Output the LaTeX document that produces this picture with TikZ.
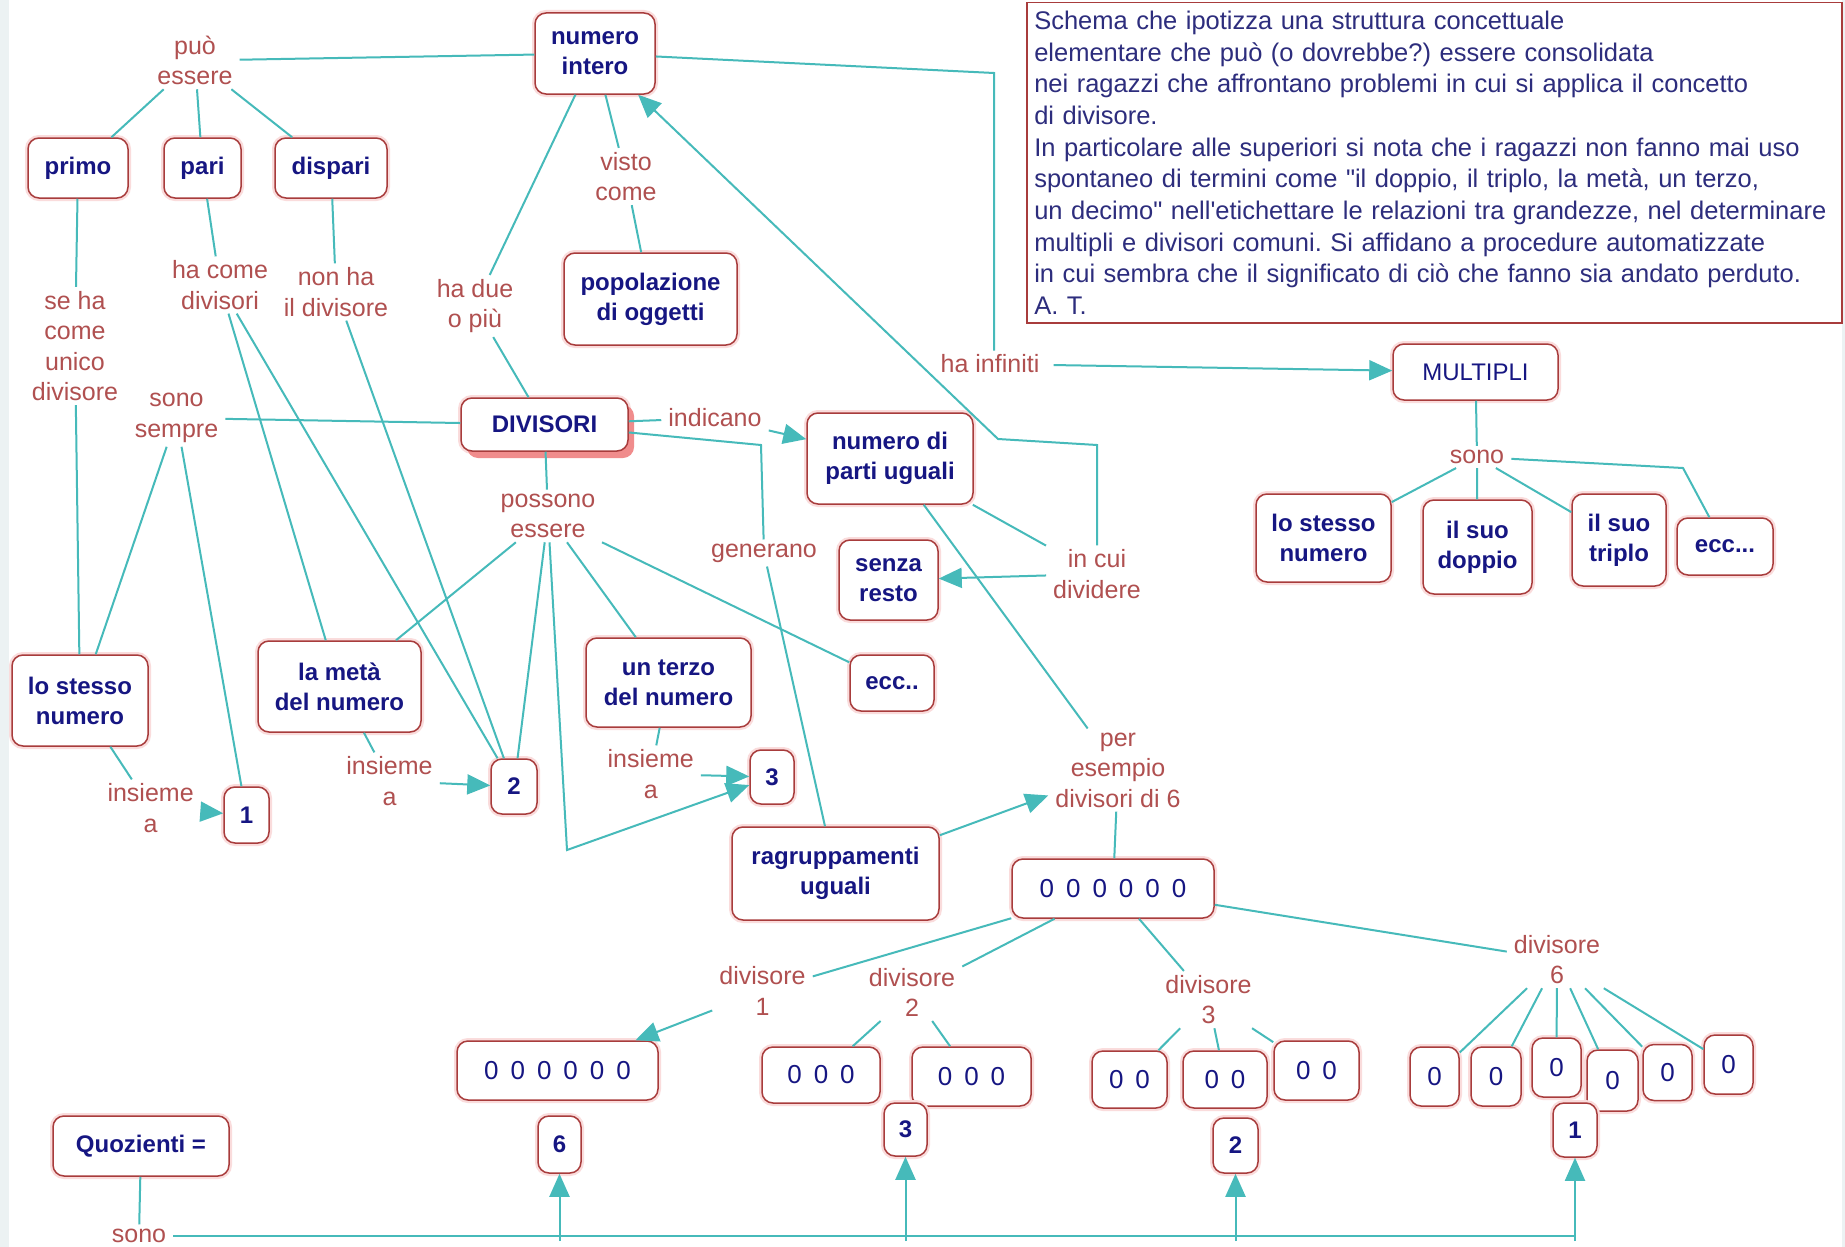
\documentclass[tikz,border=0pt]{standalone}
\usepackage{fontspec}
\setmainfont{Liberation Sans}
\newfontfamily\descfamily{Liberation Sans}
\usetikzlibrary{arrows.meta,shadows}
\definecolor{nodered}{RGB}{168,60,60}
\definecolor{glow}{RGB}{250,220,220}
\definecolor{navy}{RGB}{22,22,130}
\definecolor{linkred}{RGB}{176,80,80}
\definecolor{lineteal}{RGB}{70,186,186}
\definecolor{descblue}{RGB}{45,45,125}
\definecolor{bgstrip}{RGB}{236,242,243}
\definecolor{shadowred}{RGB}{240,140,140}
\newcommand{\myconceptfont}{\fontsize{24}{30}\selectfont\bfseries}
\newcommand{\myplainfont}{\fontsize{24}{30}\selectfont\mdseries}
\newcommand{\myzerofont}{\fontsize{26}{30}\selectfont\mdseries}
\newcommand{\mylinkfont}{\fontsize{25}{30.5}\selectfont}
\newcommand{\mydescfont}{\descfamily\fontsize{25.5}{31.7}\selectfont}
\newcommand{\zs}{\hspace{12pt}}
\tikzset{
  concept/.style={draw=nodered, line width=1.5pt, rounded corners=11pt, fill=white, text=navy,
    font=\myconceptfont, align=center, inner sep=3pt, preaction={draw=glow, line width=6pt}},
  zero/.style={concept, font=\myzerofont},
  link/.style={text=linkred, font=\mylinkfont, align=center, inner xsep=7pt, inner ysep=4pt},
  conn/.style={draw=lineteal, line width=2pt},
  arr/.style={conn, -{Triangle[length=23pt,width=20pt]}},
}
\begin{document}
\frenchspacing
\begin{tikzpicture}[x=1pt,y=-1pt]
\useasboundingbox (0,0) rectangle (1845,1247);
\fill[white] (0,0) rectangle (1845,1247);
\fill[bgstrip] (0,0) rectangle (9,1247);
\fill[bgstrip] (1842,0) rectangle (1845,1247);

% description box
\node[draw=nodered, line width=1.5pt, fill=white, anchor=north west, minimum width=815pt, minimum height=320pt,
  text width=800pt, align=left, inner xsep=7pt, inner ysep=0pt, text=descblue, font=\mydescfont] (descr) at (1026,2)
{Schema che ipotizza una struttura concettuale\\
elementare che può (o dovrebbe?) essere consolidata\\
nei ragazzi che affrontano problemi in cui si applica il concetto\\
di divisore.\\
In particolare alle superiori si nota che i ragazzi non fanno mai uso\\
spontaneo di termini come "il doppio, il triplo, la metà, un terzo,\\
un decimo" nell'etichettare le relazioni tra grandezze, nel determinare\\
multipli e divisori comuni. Si affidano a procedure automatizzate\\
in cui sembra che il significato di ciò che fanno sia andato perduto.\\
A. T.};

% concepts
\node[concept, minimum width=120pt, minimum height=81pt] (numint) at (595,53.5) {numero\\intero};
\node[concept, minimum width=100pt, minimum height=60pt] (primo) at (78,168) {primo};
\node[concept, minimum width=77pt, minimum height=60pt] (pari) at (202.5,168) {pari};
\node[concept, minimum width=112pt, minimum height=60pt] (dispari) at (331,168) {dispari};
\node[concept, minimum width=173pt, minimum height=92pt] (popol) at (650.5,299) {popolazione\\di oggetti};
\node[concept, minimum width=167pt, minimum height=53pt,
  drop shadow={shadow xshift=6pt, shadow yshift=-7pt, fill=shadowred, opacity=1}] (divisori) at (544.5,424.5) {DIVISORI};
\node[concept, minimum width=166pt, minimum height=91pt] (parti) at (890,458.5) {numero di\\parti uguali};
\node[concept, minimum width=99pt, minimum height=80pt] (senza) at (888.5,580) {senza\\resto};
\node[concept, minimum width=84pt, minimum height=56pt] (eccm) at (892,683) {ecc..};
\node[concept, minimum width=165pt, minimum height=56pt, font=\myplainfont] (multipli) at (1475.5,372) {MULTIPLI};
\node[concept, minimum width=135pt, minimum height=88pt] (stessoR) at (1323.5,538) {lo stesso\\numero};
\node[concept, minimum width=109pt, minimum height=94pt] (doppio) at (1477.5,547) {il suo\\doppio};
\node[concept, minimum width=94pt, minimum height=92pt] (triplo) at (1619,540) {il suo\\triplo};
\node[concept, minimum width=96pt, minimum height=57pt] (eccR) at (1725,546.5) {ecc...};
\node[concept, minimum width=136pt, minimum height=91pt] (stessoL) at (80,700.5) {lo stesso\\numero};
\node[concept, minimum width=163pt, minimum height=91pt] (meta) at (339.5,686.5) {la metà\\del numero};
\node[concept, minimum width=165pt, minimum height=89pt] (terzo) at (668.5,682.5) {un terzo\\del numero};
\node[concept, minimum width=45pt, minimum height=56pt] (one) at (246.5,815) {1};
\node[concept, minimum width=46pt, minimum height=55pt] (two) at (514,786.5) {2};
\node[concept, minimum width=44pt, minimum height=54pt] (three) at (772,777) {3};
\node[concept, minimum width=207pt, minimum height=93pt] (ragr) at (835.5,873.5) {ragruppamenti\\uguali};
\node[zero, minimum width=202pt, minimum height=59pt] (six) at (1113,888.5) {0\zs0\zs0\zs0\zs0\zs0};
\node[zero, minimum width=201pt, minimum height=59pt] (sixA) at (557.5,1070.5) {0\zs0\zs0\zs0\zs0\zs0};
\node[zero, minimum width=118pt, minimum height=56pt] (threeA) at (821,1075) {0\zs0\zs0};
\node[zero, minimum width=119pt, minimum height=59pt] (threeB) at (971.5,1076.5) {0\zs0\zs0};
\node[zero, minimum width=75pt, minimum height=57pt] (twoA) at (1129.5,1079.5) {0\zs0};
\node[zero, minimum width=84pt, minimum height=57pt] (twoB) at (1225,1079.5) {0\zs0};
\node[zero, minimum width=85pt, minimum height=59pt] (twoC) at (1316.5,1070.5) {0\zs0};
\node[zero, minimum width=49pt, minimum height=59pt] (oneA) at (1434.5,1076.5) {0};
\node[zero, minimum width=50pt, minimum height=59pt] (oneB) at (1496,1076.5) {0};
\node[zero, minimum width=49pt, minimum height=59pt] (oneC) at (1556.5,1067.5) {0};
\node[zero, minimum width=51pt, minimum height=61pt] (oneD) at (1612.5,1080.5) {0};
\node[zero, minimum width=49pt, minimum height=56pt] (oneE) at (1667.5,1072.5) {0};
\node[zero, minimum width=49pt, minimum height=59pt] (oneF) at (1728.5,1064.5) {0};
\node[concept, minimum width=43pt, minimum height=57pt] (q6) at (559.5,1144.5) {6};
\node[concept, minimum width=43pt, minimum height=53pt] (q3) at (905.5,1129.5) {3};
\node[concept, minimum width=45pt, minimum height=55pt] (q2) at (1235.5,1145.5) {2};
\node[concept, minimum width=44pt, minimum height=54pt] (q1) at (1575,1130) {1};
\node[concept, minimum width=176pt, minimum height=60pt] (quoz) at (141,1146) {Quozienti =};

% linking phrases
\node[link] (puo) at (195,60.5) {può\\essere};
\node[link] (visto) at (626,176.5) {visto\\come};
\node[link] (seha) at (75,346) {se ha\\come\\unico\\divisore};
\node[link] (hacome) at (220,285) {ha come\\divisori};
\node[link] (nonha) at (336,292) {non ha\\il divisore};
\node[link] (hadue) at (475,306) {ha due\\o più};
\node[link] (sempre) at (176.5,418) {sono\\sempre};
\node[link] (indicano) at (715,418) {indicano};
\node[link] (possono) at (548,516) {possono\\essere};
\node[link] (generano) at (764,553) {generano};
\node[link, inner xsep=14pt] (hainf) at (990,364) {ha infiniti};
\node[link] (incui) at (1097,574) {in cui\\dividere};
\node[link] (sonoM) at (1477,457) {sono};
\node[link] (insL) at (150.6,808) {insieme\\a};
\node[link] (insM) at (389.5,781) {insieme\\a};
\node[link] (insT) at (650.7,774) {insieme\\a};
\node[link] (peres) at (1118,770) {per\\esempio\\divisori di 6};
\node[link] (div1) at (762.5,991) {divisore\\1};
\node[link] (div2) at (912,992.5) {divisore\\2};
\node[link] (div3) at (1208.5,999.6) {divisore\\3};
\node[link] (div6) at (1557,959.6) {divisore\\6};
\node[link] (sonoQ) at (139,1235.5) {sono};

% bend points
\coordinate (k1) at (994,73);
\coordinate (k2) at (1097,445);
\coordinate (k3) at (998,439);
\coordinate (k4) at (761,445);
\coordinate (k6) at (567,850);
\coordinate (k7) at (1683,468);
\coordinate (k5) at (1575,1241);

% connectors
\draw[conn] (numint) -- (puo);
\draw[conn] (puo) -- (primo);
\draw[conn] (puo) -- (pari);
\draw[conn] (puo) -- (dispari);
\draw[conn] (numint) -- (visto);
\draw[conn] (visto) -- (popol);
\draw[conn] (numint) -- (hadue);
\draw[conn] (hadue) -- (divisori);
\draw[conn] (numint) -- (k1) -- (k1 |- hainf.north);
\draw[arr] (hainf) -- (multipli);
\draw[arr] (incui) -- (k2) -- (k3) -- (numint);
\draw[conn] (parti) -- (incui);
\draw[arr] (incui) -- (senza);
\draw[conn] (divisori) -- (indicano);
\draw[arr] (indicano) -- (parti);
\draw[conn] (divisori) -- (k4) -- (generano);
\draw[conn] (generano) -- (ragr);
\draw[arr] (ragr) -- (peres);
\draw[conn] (parti) -- (peres);
\draw[conn] (peres) -- (six);
\draw[conn] (divisori) -- (possono);
\draw[conn] (possono) -- (meta);
\draw[conn] (possono) -- (two);
\draw[conn] (possono) -- (terzo);
\draw[conn] (possono) -- (eccm);
\draw[arr] (possono) -- (k6) -- (three);
\draw[conn] (divisori) -- (sempre);
\draw[conn] (sempre) -- (stessoL);
\draw[conn] (sempre) -- (one);
\draw[conn] (primo) -- (seha);
\draw[conn] (seha) -- (stessoL);
\draw[conn] (pari) -- (hacome);
\draw[conn] (hacome) -- (meta);
\draw[conn] (hacome) -- (two);
\draw[conn] (dispari) -- (nonha);
\draw[conn] (nonha) -- (two);
\draw[conn] (stessoL) -- (insL);
\draw[arr] (insL) -- (one);
\draw[conn] (meta) -- (insM);
\draw[arr] (insM) -- (two);
\draw[conn] (terzo) -- (insT);
\draw[arr] (insT) -- (three);
\draw[conn] (multipli) -- (sonoM);
\draw[conn] (sonoM) -- (stessoR);
\draw[conn] (sonoM) -- (doppio);
\draw[conn] (sonoM) -- (triplo);
\draw[conn] (sonoM) -- (k7) -- (eccR);
\draw[conn] (six) -- (div1);
\draw[conn] (six) -- (div2);
\draw[conn] (six) -- (div3);
\draw[conn] (six) -- (div6);
\draw[arr] (div1) -- (sixA);
\draw[conn] (div2) -- (threeA);
\draw[conn] (div2) -- (threeB);
\draw[conn] (div3) -- (twoA);
\draw[conn] (div3) -- (twoB);
\draw[conn] (div3) -- (twoC);
\draw[conn] (div6) -- (oneA);
\draw[conn] (div6) -- (oneB);
\draw[conn] (div6) -- (oneC);
\draw[conn] (div6) -- (oneD);
\draw[conn] (div6) -- (oneE);
\draw[conn] (div6) -- (oneF);
\draw[conn] (quoz) -- (sonoQ);
\draw[conn] (sonoQ) -- (sonoQ.east -| k5) -- (k5);
\draw[arr] (q6.south |- k5) -- (q6.south);
\draw[arr] (q3.south |- k5) -- (q3.south);
\draw[arr] (q2.south |- k5) -- (q2.south);
\draw[arr] (k5) -- (q1.south);
\end{tikzpicture}
\end{document}
